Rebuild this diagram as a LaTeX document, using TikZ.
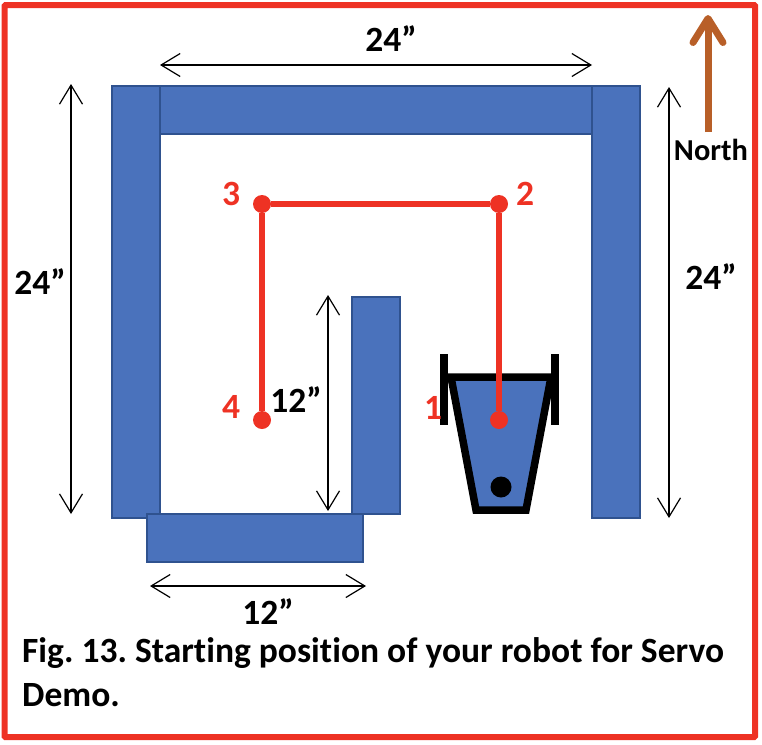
\documentclass[tikz,border=0pt]{standalone}
\usepackage{fontspec}
\setmainfont[Ligatures=NoCommon]{Carlito}
\usetikzlibrary{arrows.meta}
\definecolor{frame}{HTML}{EE3224}
\definecolor{wall}{HTML}{4A72BC}
\definecolor{walledge}{HTML}{2F528F}
\definecolor{north}{HTML}{B85F28}
\tikzset{
  x=1pt,y=-1pt,
  wallbox/.style={draw=walledge,line width=2.8pt,fill=wall},
  dim/.style={draw=black,line width=1.3pt,{Straight Barb[length=19pt,width=23pt,line width=1.2pt]}-{Straight Barb[length=19pt,width=23pt,line width=1.2pt]}},
  dimlabel/.style={font=\bfseries\fontsize{35.5}{38}\selectfont,text=black,inner sep=0pt},
  waypoint/.style={circle,fill=frame,inner sep=0pt,minimum size=18pt},
  waylabel/.style={font=\bfseries\fontsize{35.5}{38}\selectfont,text=frame,inner sep=0pt},
  route/.style={draw=frame,line width=5.5pt},
  robotline/.style={draw=black,line width=7.5pt},
  captiontext/.style={font=\bfseries\fontsize{35.5}{38}\selectfont\frenchspacing,text=black,inner sep=0pt,anchor=base west}
}
\begin{document}
\begin{tikzpicture}
\useasboundingbox (0,0) rectangle (762,744);
\draw[frame,line width=6pt,rounded corners=1pt] (4.5,5) rectangle (755,737);
% walls
\draw[wallbox] (112,86) rectangle (160,518);
\draw[wallbox] (160,86) rectangle (592,134);
\draw[wallbox] (592,86) rectangle (640,518);
\draw[wallbox] (352,297) rectangle (400,514);
\draw[wallbox] (147,514) rectangle (363,562);
% robot
\draw[robotline,fill=wall,miter limit=10] (451,377) -- (551,377) -- (526,510) -- (476,510) -- cycle;
\draw[black,line width=8pt] (444,354) -- (444,425);
\draw[black,line width=8pt] (555,354) -- (555,425);
\node[circle,fill=black,inner sep=0pt,minimum size=21pt] (caster) at (501,487) {};
% route
\node[waypoint] (p1) at (499,420) {};
\node[waypoint] (p2) at (499,204) {};
\node[waypoint] (p3) at (262,204) {};
\node[waypoint] (p4) at (262,420) {};
\draw[route] (p1) -- (p2) -- (p3) -- (p4);
\node[waylabel] (l1) at (433,408) {1};
\node[waylabel] (l2) at (525,194) {2};
\node[waylabel] (l3) at (231,194) {3};
\node[waylabel] (l4) at (231,407) {4};
% dimensions
\coordinate (dta) at (160,65); \coordinate (dtb) at (592,65);
\coordinate (dla) at (71,84);  \coordinate (dlb) at (71,514);
\coordinate (dra) at (669,87); \coordinate (drb) at (669,518);
\coordinate (dma) at (328,295);\coordinate (dmb) at (328,511);
\coordinate (dba) at (150,586);\coordinate (dbb) at (366,586);
\draw[dim] (dta) -- (dtb);
\draw[dim] (dla) -- (dlb);
\draw[dim] (dra) -- (drb);
\draw[dim] (dma) -- (dmb);
\draw[dim] (dba) -- (dbb);
\node[dimlabel] (t24) at (391,39) {24”};
\node[dimlabel] (l24) at (40,282) {24”};
\node[dimlabel] (r24) at (711,277) {24”};
\node[dimlabel] (m12) at (296,400) {12”};
\node[dimlabel] (b12) at (268,612) {12”};
% north
\coordinate (ntail) at (708,132);
\coordinate (nhead) at (708,15);
\draw[north,line width=7pt,-{Straight Barb[length=24pt,width=30pt,line width=7pt,round]}] (ntail) -- (nhead);
\node[font=\bfseries\fontsize{30.4}{33}\selectfont,text=black,inner sep=0pt] (nlabel) at (711,150) {North};
% caption
\node[captiontext] (cap1) at (22,662) {Fig. 13. Starting position of your robot for Servo};
\node[captiontext] (cap2) at (22,706) {Demo.};
\end{tikzpicture}
\end{document}
